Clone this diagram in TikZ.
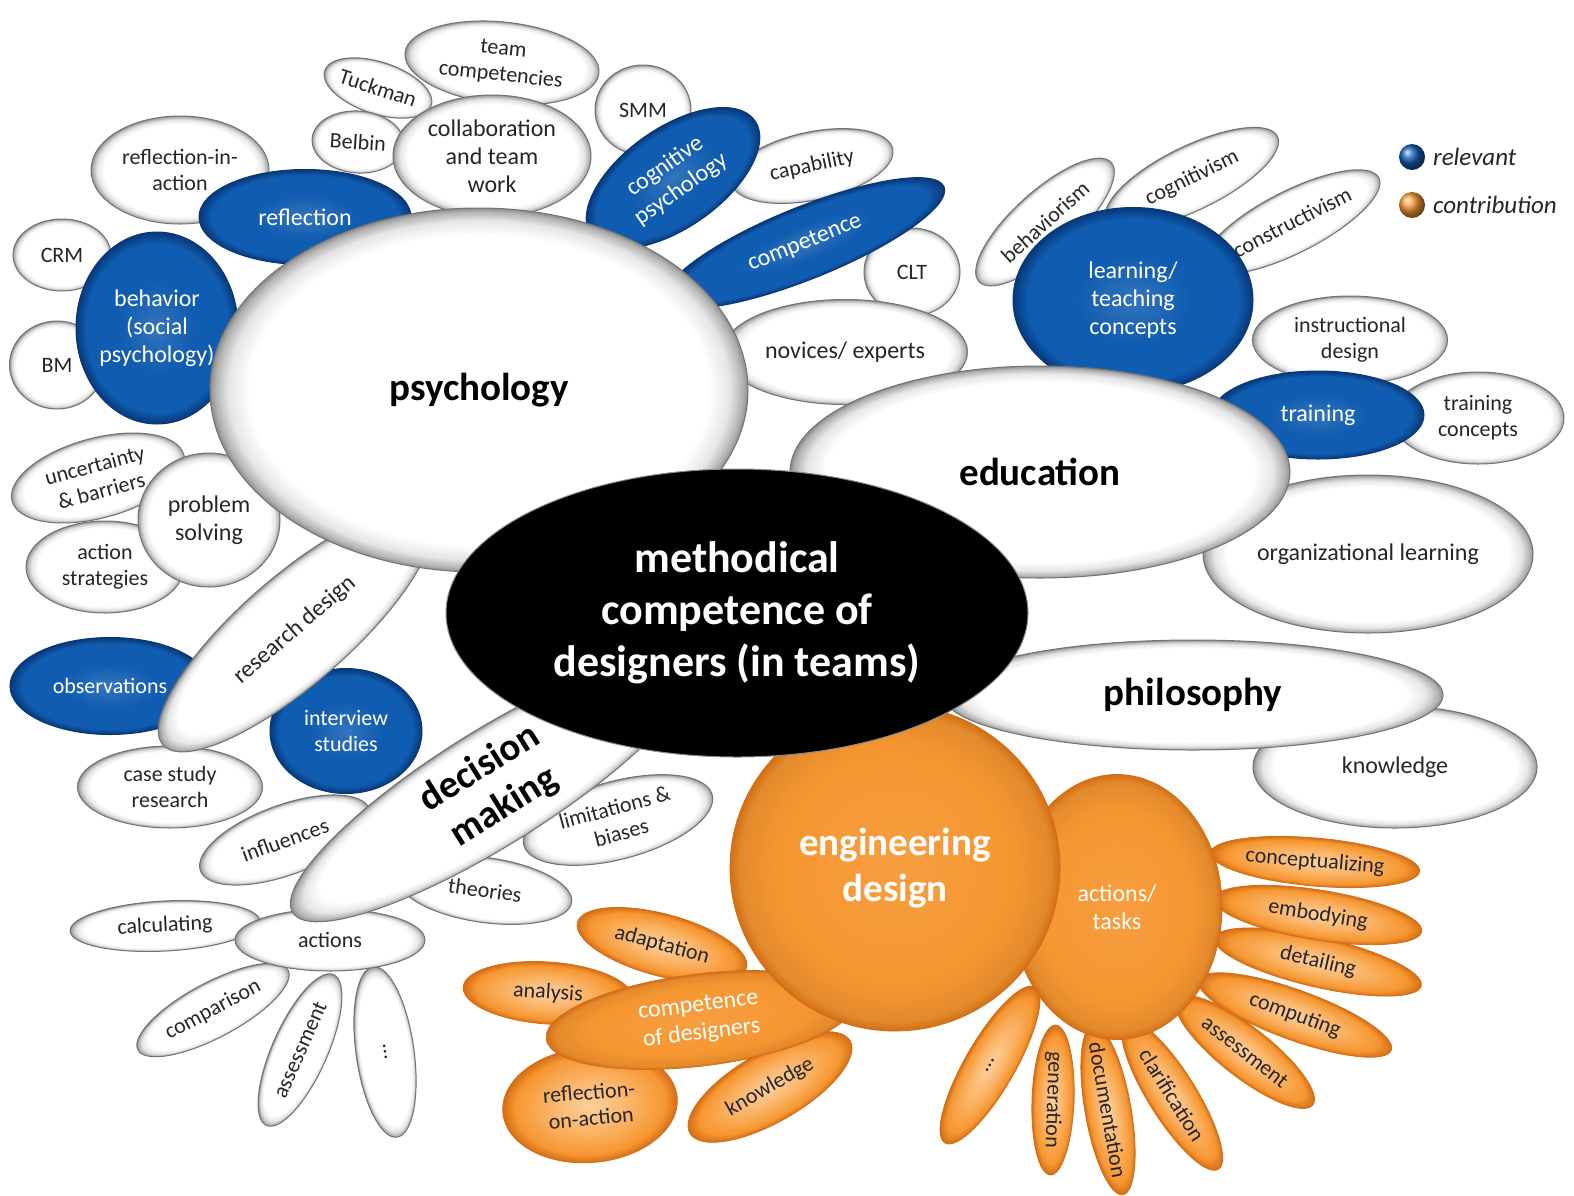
\documentclass[tikz,border=0pt]{standalone}
\usepackage{fontspec}
\setmainfont{Carlito}
\usetikzlibrary{shapes.geometric}

\definecolor{bubblue}{RGB}{16,92,176}
\definecolor{bubbluedk}{RGB}{8,56,120}
\definecolor{buborange}{RGB}{246,150,48}
\definecolor{buborangedk}{RGB}{212,110,22}
\definecolor{petal}{RGB}{250,176,96}
\definecolor{petallt}{RGB}{253,208,156}

\pgfdeclareradialshading{wshade}{\pgfpointorigin}{color(0bp)=(white); color(21.3bp)=(white); color(23.3bp)=(black!10); color(24.5bp)=(black!30); color(25bp)=(black!45); color(40bp)=(black!45)}
\pgfdeclareradialshading{bshade}{\pgfpointorigin}{color(0bp)=(bubblue!85!white); color(12bp)=(bubblue); color(22bp)=(bubblue); color(25bp)=(bubbluedk); color(40bp)=(bubbluedk)}
\pgfdeclareradialshading{oshade}{\pgfpointorigin}{color(0bp)=(buborange!92!white); color(18bp)=(buborange); color(23.5bp)=(buborange!92!black); color(25bp)=(buborangedk); color(40bp)=(buborangedk)}
\pgfdeclareradialshading{pshade}{\pgfpointorigin}{color(0bp)=(petallt); color(13bp)=(petal); color(21.5bp)=(buborange); color(25bp)=(buborangedk); color(40bp)=(buborangedk)}

\tikzset{
  wbub/.style={shade, shading=wshade, draw=black!55, line width=1pt},
  bbub/.style={shade, shading=bshade, draw=bubbluedk, line width=1pt},
  obub/.style={shade, shading=oshade, draw=buborangedk, line width=0.8pt},
  pbub/.style={shade, shading=pshade, draw=buborangedk, line width=0.8pt},
  cbub/.style={fill=black, draw=black!45, line width=1pt},
  lab/.style={font=\fontsize{22}{26}\selectfont, text=black!85, align=center, inner sep=0pt},
  labm/.style={lab, font=\fontsize{24}{28}\selectfont},
  wlab/.style={lab, text=white},
  wlabm/.style={labm, text=white},
  head/.style={font=\bfseries\fontsize{39}{46}\selectfont, text=black, align=center, inner sep=0pt},
  whead/.style={head, text=white},
  chead/.style={head, text=white, font=\bfseries\fontsize{44}{52}\selectfont},
  legend/.style={anchor=west, font=\itshape\fontsize{25}{30}\selectfont, text=black!85, inner sep=0pt}
}

% bubble: shape style, text style, name, x, y, angle, width, height, text
\newcommand{\bub}[9]{%
  \begin{scope}[transform canvas={shift={(#4,#5)}, rotate=#6}]
    \path[#1] (0,0) ellipse ({#7/2} and {#8/2});
    \node[#2] (#3) at (0,0) {#9};
  \end{scope}}

\begin{document}
\begin{tikzpicture}[x=1pt, y=-1pt]
  \fill[white] (0,0) rectangle (1574,1195);
  \useasboundingbox (0,0) rectangle (1574,1195);

  % psychology
  \bub{wbub}{lab}{tuckman}{378}{88}{-18}{112}{52}{Tuckman}
  \bub{wbub}{lab}{teamcomp}{502}{63}{-6}{195}{82}{team\\competencies}
  \bub{wbub}{lab}{belbin}{358}{142}{-4}{92}{62}{Belbin}
  \bub{wbub}{labm}{collab}{492}{156}{0}{198}{122}{collaboration\\and team\\work}
  \bub{wbub}{lab}{smm}{643}{110}{0}{96}{90}{SMM}
  \bub{wbub}{lab}{capab}{812}{166}{12}{165}{68}{capability}
  \bub{bbub}{wlabm}{cogpsy}{673}{178}{35}{200}{100}{cognitive\\psychology}
  \bub{wbub}{lab}{clt}{912}{272}{0}{96}{88}{CLT}
  \bub{wbub}{labm}{novices}{845}{352}{0}{245}{105}{novices/ experts}
  \bub{bbub}{wlabm}{compet}{805}{243}{22}{300}{72}{competence}
  \bub{wbub}{lab}{reflin}{180}{170}{0}{178}{108}{reflection-in-\\action}
  \bub{bbub}{wlabm}{reflect}{305}{217}{0}{212}{95}{reflection}
  \bub{wbub}{lab}{crm}{62}{255}{0}{98}{72}{CRM}
  \bub{wbub}{lab}{bm}{57}{365}{0}{95}{88}{BM}
  \bub{bbub}{wlabm}{behav}{157}{328}{0}{162}{192}{behavior\\(social\\psychology)}
  \bub{wbub}{lab}{uncert}{98}{478}{15}{178}{80}{uncertainty\\\& barriers}
  \bub{wbub}{lab}{actstrat}{105}{567}{0}{158}{92}{action\\strategies}
  \bub{wbub}{labm}{probsolv}{209}{520}{0}{142}{134}{problem\\solving}
  \bub{bbub}{wlab}{observ}{110}{686}{0}{200}{97}{observations}
  \bub{wbub}{lab}{casestudy}{170}{787}{0}{185}{82}{case study\\research}
  \bub{bbub}{wlab}{interview}{346}{731}{0}{152}{125}{interview\\studies}
  \bub{wbub}{labm}{resdesign}{295}{630}{41}{350}{108}{research design}
  \bub{wbub}{head}{psych}{479}{390}{0}{538}{364}{psychology}

  % education
  \bub{wbub}{lab}{cognitiv}{1192}{178}{26}{190}{64}{cognitivism}
  \bub{wbub}{lab}{behavism}{1045}{222}{42}{178}{62}{behaviorism}
  \bub{wbub}{lab}{construct}{1292}{222}{27}{195}{62}{constructivism}
  \bub{bbub}{wlabm}{learnteach}{1133}{300}{0}{240}{185}{learning/\\teaching\\concepts}
  \bub{wbub}{lab}{instruct}{1350}{340}{0}{195}{88}{instructional\\design}
  \bub{wbub}{lab}{trainconc}{1478}{418}{0}{172}{92}{training\\concepts}
  \bub{bbub}{wlabm}{training}{1318}{415}{0}{212}{88}{training}
  \bub{wbub}{labm}{orglearn}{1368}{554}{0}{330}{158}{organizational learning}
  \bub{wbub}{head}{educ}{1040}{472}{0}{500}{212}{education}
  \bub{wbub}{labm}{knowphil}{1395}{767}{0}{284}{122}{knowledge}

  % decision making
  \bub{wbub}{lab}{calc}{165}{926}{3}{190}{50}{calculating}
  \bub{wbub}{lab}{compar}{213}{1010}{28}{170}{55}{comparison}
  \bub{wbub}{lab}{assessw}{300}{1050}{66}{165}{55}{assessment}
  \bub{wbub}{lab}{dotsw}{385}{1052}{-82}{172}{58}{\dots}
  \bub{wbub}{lab}{actions}{330}{940}{0}{190}{62}{actions}
  \bub{wbub}{lab}{influen}{285}{840}{20}{180}{70}{influences}
  \bub{wbub}{lab}{limits}{618}{820}{15}{195}{78}{limitations \&\\biases}
  \bub{wbub}{lab}{theories}{485}{890}{-8}{175}{65}{theories}
  \bub{wbub}{head}{decision}{492}{788}{32}{470}{115}{decision\\making}

  % engineering design
  \bub{pbub}{lab}{petdots}{990}{1065}{60}{180}{50}{\dots}
  \bub{pbub}{lab}{generat}{1053}{1100}{-92}{150}{42}{generation}
  \bub{pbub}{lab}{document}{1108}{1110}{-80}{172}{46}{documentation}
  \bub{pbub}{lab}{clarif}{1172}{1095}{-58}{175}{48}{clarification}
  \bub{pbub}{lab}{assesso}{1245}{1052}{-38}{172}{50}{assessment}
  \bub{pbub}{lab}{computing}{1295}{1015}{-20}{205}{50}{computing}
  \bub{pbub}{lab}{detailing}{1318}{962}{-13}{212}{50}{detailing}
  \bub{pbub}{lab}{embodying}{1318}{915}{-9}{210}{50}{embodying}
  \bub{pbub}{lab}{conceptual}{1315}{862}{-5}{210}{48}{conceptualizing}
  \bub{obub}{wlabm}{acttasks}{1117}{907}{0}{210}{265}{actions/\\tasks}
  \bub{pbub}{lab}{adaptation}{662}{945}{-15}{175}{62}{adaptation}
  \bub{pbub}{lab}{analysis}{548}{993}{-4}{170}{62}{analysis}
  \bub{pbub}{lab}{reflon}{590}{1105}{5}{175}{115}{reflection-\\on-action}
  \bub{pbub}{lab}{knowdes}{770}{1087}{30}{185}{70}{knowledge}
  \bub{obub}{wlabm}{compdes}{700}{1020}{7}{310}{92}{competence\\of designers}
  \bub{obub}{whead}{engdes}{895}{868}{0}{330}{326}{engineering\\design}

  % philosophy and centre
  \bub{wbub}{head}{philos}{1193}{695}{0}{500}{110}{philosophy}
  \bub{cbub}{chead}{centre}{737}{613}{0}{582}{288}{methodical\\competence of\\designers (in teams)}

  % legend
  \node[circle, ball color=bubblue, minimum size=26, inner sep=0pt] (relball) at (1412,157) {};
  \node[circle, ball color=buborange, minimum size=26, inner sep=0pt] (conball) at (1412,205) {};
  \node[legend] (relev) at (1433,157) {relevant};
  \node[legend] (contrib) at (1433,205) {contribution};
\end{tikzpicture}
\end{document}
